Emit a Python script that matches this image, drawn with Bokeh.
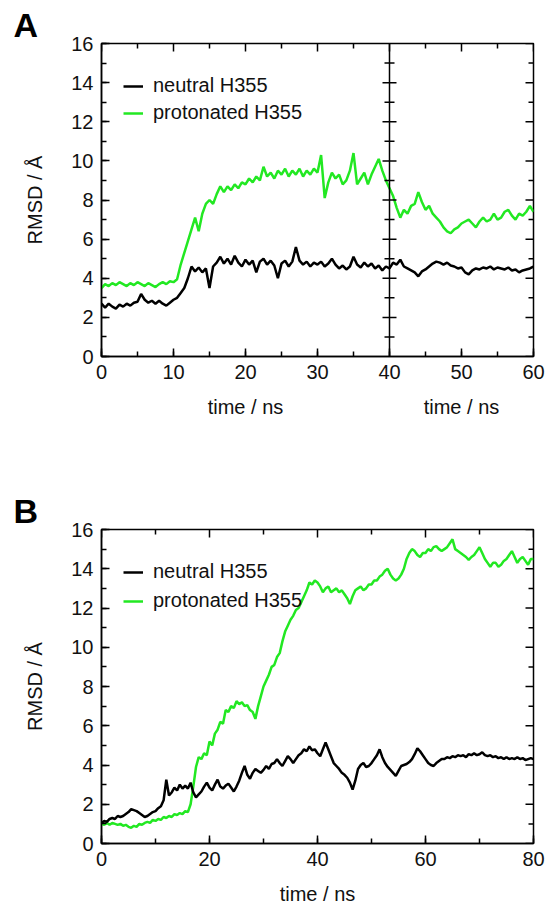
import numpy as np
from bokeh.plotting import figure
from bokeh.models import (Range1d, SingleIntervalTicker, LinearAxis, Span, Title,
                          Legend, LegendItem)
from bokeh.core.properties import value
from bokeh.layouts import column
from bokeh.embed import file_html
from bokeh.resources import INLINE

FONT = "Liberation Sans"
GREEN = "#22e822"
BLACK = "#000000"
TEXT_COLOR = "#111111"

# ---------------- data (RMSD in Angstrom, sampled every 0.5 ns) ----------------
SAMPLE_STEP = 0.5
A_SPLIT = 40  # ns, restart boundary in panel A

A_NEUTRAL = [
    2.7, 2.5, 2.7, 2.55, 2.45, 2.65, 2.55, 2.7, 2.6, 2.75,
    2.8, 3.2, 2.9, 2.75, 2.85, 2.7, 2.85, 2.7, 2.6, 2.75,
    2.9, 3.0, 3.25, 3.5, 4.0, 4.6, 4.35, 4.55, 4.3, 4.5,
    3.5, 4.6, 4.8, 5.1, 4.75, 5.0, 4.7, 5.15, 4.8, 4.6,
    4.95, 4.7, 4.9, 4.3, 4.85, 5.0, 4.7, 4.9, 4.65, 4.0,
    4.75, 4.9, 4.6, 4.85, 5.6, 4.9, 4.7, 4.85, 4.6, 4.8,
    4.7, 4.85, 4.6, 4.75, 5.0, 4.7, 4.5, 4.65, 4.45, 4.6,
    5.1, 4.7, 4.55, 4.8, 4.6, 4.75, 4.5, 4.65, 4.4, 4.6,
    4.5, 4.8, 4.7, 4.95, 4.6, 4.5, 4.4, 4.3, 4.1, 4.35,
    4.45, 4.6, 4.75, 4.85, 4.8, 4.7, 4.8, 4.65, 4.6, 4.5,
    4.55, 4.3, 4.2, 4.4, 4.5, 4.45, 4.55, 4.5, 4.6, 4.45,
    4.55, 4.5, 4.45, 4.55, 4.4, 4.45, 4.3, 4.4, 4.45, 4.5,
    4.6,
]
A_PROTON = [
    3.5, 3.7, 3.6, 3.75, 3.65, 3.8, 3.7, 3.6, 3.75, 3.65,
    3.8, 3.7, 3.6, 3.75, 3.65, 3.55, 3.7, 3.8, 3.7, 3.85,
    3.8, 3.95, 4.7, 5.3, 5.9, 6.5, 7.1, 6.4, 7.3, 7.8,
    8.0, 7.8, 8.3, 8.7, 8.4, 8.7, 8.5, 8.8, 8.6, 8.9,
    8.8, 9.1, 8.9, 9.2, 9.0, 9.7, 9.2, 9.4, 9.1, 9.5,
    9.3, 9.6, 9.2, 9.5, 9.3, 9.6, 9.2, 9.5, 9.3, 9.6,
    9.4, 10.3, 8.1, 8.9, 9.4, 9.1, 9.3, 8.8, 9.0, 9.5,
    10.4, 8.8, 9.1, 9.4, 8.8, 9.3, 9.7, 10.1, 9.5, 9.0,
    8.6, 8.2, 7.6, 7.1, 7.5, 7.3, 7.7, 7.8, 8.4, 7.9,
    7.5, 7.7, 7.3, 7.1, 6.9, 6.6, 6.4, 6.3, 6.5, 6.6,
    6.8, 6.9, 7.0, 6.8, 6.6, 6.9, 7.1, 6.9, 7.0, 7.3,
    7.0, 7.1, 7.4, 7.5, 7.2, 7.0, 7.3, 7.2, 7.4, 7.7,
    7.4,
]
B_NEUTRAL = [
    1.05, 1.15, 1.1, 1.25, 1.3, 1.25, 1.4, 1.35, 1.4, 1.5,
    1.6, 1.75, 1.7, 1.65, 1.55, 1.45, 1.35, 1.4, 1.5, 1.6,
    1.65, 1.8, 1.9, 2.2, 3.25, 2.45, 2.6, 2.85, 2.7, 3.0,
    2.8, 2.95, 2.8, 3.1, 2.6, 2.35, 2.5, 2.65, 2.9, 3.1,
    2.85, 2.7, 3.0, 3.25, 2.9, 2.8, 2.95, 3.05, 2.85, 2.65,
    2.9, 3.2, 3.6, 3.95, 3.5, 3.3, 3.6, 3.8, 3.7, 3.6,
    3.75, 3.95, 3.8, 4.05, 4.1, 4.3, 4.1, 3.95, 4.2, 4.45,
    4.3, 4.1, 4.3, 4.5, 4.6, 4.8, 4.7, 4.95, 4.75, 4.8,
    4.6, 4.45, 4.8, 5.15, 4.8, 4.45, 4.1, 3.95, 3.8, 3.6,
    3.5, 3.35, 3.1, 2.75, 3.2, 3.8, 4.0, 4.1, 3.9, 3.95,
    4.1, 4.3, 4.5, 4.8, 4.4, 4.1, 3.9, 3.75, 3.6, 3.45,
    3.7, 3.95, 4.0, 4.05, 4.15, 4.3, 4.55, 4.85, 4.7, 4.5,
    4.3, 4.1, 4.0, 3.95, 4.1, 4.2, 4.3, 4.3, 4.4, 4.35,
    4.45, 4.4, 4.5, 4.45, 4.5, 4.4, 4.55, 4.5, 4.6, 4.5,
    4.55, 4.65, 4.5, 4.45, 4.5, 4.4, 4.45, 4.35, 4.4, 4.3,
    4.4, 4.3, 4.35, 4.3, 4.4, 4.3, 4.35, 4.25, 4.3, 4.35,
    4.3,
]
B_PROTON = [
    1.0, 0.95, 1.05, 0.95, 1.05, 1.0, 0.95, 1.0, 0.9, 0.95,
    0.85, 0.8, 0.9, 0.85, 1.0, 0.95, 1.05, 1.1, 1.05, 1.2,
    1.15, 1.25, 1.2, 1.35, 1.3, 1.4, 1.35, 1.5, 1.45, 1.55,
    1.5, 1.65, 1.6, 2.0, 2.9, 3.9, 4.4, 4.3, 4.6, 4.5,
    5.2, 5.0, 5.6, 5.8, 6.2, 6.1, 6.8, 6.7, 7.0, 6.9,
    7.25, 7.1, 7.2, 7.0, 7.05, 6.8, 6.7, 6.35, 7.0, 7.5,
    8.0, 8.3, 8.6, 9.0, 9.1, 9.5, 9.7, 10.3, 10.8, 11.1,
    11.4, 11.6, 11.9, 12.0, 12.3, 12.6, 12.9, 13.3, 13.2, 13.4,
    13.3, 13.1, 12.8, 13.0, 13.1, 12.8, 12.9, 13.0, 12.8, 12.9,
    12.7, 12.5, 12.2, 12.6, 12.9, 13.0, 13.1, 12.9, 13.0, 13.2,
    13.2, 13.4, 13.4, 13.6, 13.7, 13.9, 14.0, 13.7, 13.5, 13.4,
    13.5, 13.7, 14.0, 14.5, 14.8, 15.0, 14.9, 14.7, 14.6, 14.8,
    14.8, 15.0, 14.9, 15.1, 15.15, 15.0, 14.9, 15.0, 15.1, 15.3,
    15.5, 15.0, 14.9, 14.8, 14.7, 14.6, 14.45, 14.6, 14.7, 14.9,
    15.1, 14.8, 14.5, 14.3, 14.1, 14.3, 14.3, 14.1, 14.2, 14.4,
    14.5, 14.7, 14.9, 14.6, 14.3, 14.5, 14.6, 14.4, 14.2, 14.5,
    14.5,
]

LABEL_NEUTRAL = "neutral H355"
LABEL_PROTON = "protonated H355"
X_LABEL = "time / ns"
Y_LABEL = "RMSD / Å"
Y_MAX = 16
Y_INTERVAL = 2
A_X_MAX = 60
A_X_INTERVAL = 10
B_X_MAX = 80
B_X_INTERVAL = 20

# geometry (pixels)
BORDER_L = 101
BORDER_R = 16
FRAME_W = 432
MAJOR_LEN = 8
MINOR_LEN = 5
DIV_MAJOR_HALF = 7
DIV_MINOR_HALF = 5
LINE_W = 1.5


def times(arr):
    return np.arange(len(arr)) * SAMPLE_STEP


def style_axis(ax):
    ax.axis_line_color = "black"
    ax.axis_line_width = LINE_W
    ax.major_tick_in = MAJOR_LEN
    ax.major_tick_out = 0
    ax.minor_tick_in = MINOR_LEN
    ax.minor_tick_out = 0
    ax.major_tick_line_width = LINE_W
    ax.minor_tick_line_width = LINE_W
    ax.major_tick_line_color = "black"
    ax.minor_tick_line_color = "black"
    ax.major_label_text_font = FONT
    ax.major_label_text_color = TEXT_COLOR
    ax.major_label_text_font_size = "20px"
    ax.major_label_standoff = 8
    ax.axis_label_text_font = FONT
    ax.axis_label_text_font_size = "20px"
    ax.axis_label_text_font_style = "normal"
    ax.axis_label_text_color = TEXT_COLOR


def mirror_ticks(p, x_max, x_interval, frame_h):
    # inward ticks on the top and right frame edges
    ux = x_max / FRAME_W      # data units per pixel (x)
    uy = Y_MAX / frame_h      # data units per pixel (y)
    x_major = np.arange(0, x_max + 0.001, x_interval)
    x_minor = x_major[:-1] + x_interval / 2
    y_major = np.arange(0, Y_MAX + 0.001, Y_INTERVAL)
    y_minor = y_major[:-1] + Y_INTERVAL / 2
    for xs, ln in [(x_major, MAJOR_LEN), (x_minor, MINOR_LEN)]:
        p.segment(x0=xs, y0=[Y_MAX] * len(xs), x1=xs, y1=[Y_MAX - ln * uy] * len(xs),
                  line_color="black", line_width=LINE_W)
    for ys, ln in [(y_major, MAJOR_LEN), (y_minor, MINOR_LEN)]:
        p.segment(x0=[x_max] * len(ys), y0=ys, x1=[x_max - ln * ux] * len(ys), y1=ys,
                  line_color="black", line_width=LINE_W)


def make_fig(x_max, x_interval, frame_h, top_border, bottom_border, letter):
    p = figure(frame_width=FRAME_W, frame_height=frame_h,
               x_range=Range1d(0, x_max), y_range=Range1d(0, Y_MAX),
               output_backend="svg", toolbar_location=None,
               min_border_left=BORDER_L, min_border_right=BORDER_R,
               min_border_top=top_border, min_border_bottom=bottom_border,
               x_axis_type=None, y_axis_type=None)
    p.outline_line_color = "black"
    p.outline_line_width = LINE_W
    p.background_fill_color = "white"
    p.border_fill_color = "white"
    xt = SingleIntervalTicker(interval=x_interval, num_minor_ticks=2)
    yt = SingleIntervalTicker(interval=Y_INTERVAL, num_minor_ticks=2)
    bottom = LinearAxis(ticker=xt)
    left = LinearAxis(ticker=yt, axis_label=Y_LABEL)
    style_axis(bottom)
    style_axis(left)
    left.axis_label_standoff = 22
    p.add_layout(bottom, "below")
    p.add_layout(left, "left")
    p.add_layout(Title(text=letter, align="left", offset=-88, standoff=0,
                       text_font=FONT, text_font_style="bold",
                       text_font_size="34px", text_color="black"), "above")
    mirror_ticks(p, x_max, x_interval, frame_h)
    return p, bottom


def add_traces(p, t_n, neutral, t_p, proton, frame_h, row_gap):
    rp = p.line(t_p, proton, line_color=GREEN, line_width=2.5)
    rn = p.line(t_n, neutral, line_color=BLACK, line_width=2.5)
    leg = Legend(items=[LegendItem(label=LABEL_NEUTRAL, renderers=[rn]),
                        LegendItem(label=LABEL_PROTON, renderers=[rp])],
                 location=(22, frame_h - 77 - row_gap), orientation="vertical",
                 label_text_font=FONT, label_text_font_size="20px",
                 label_text_color=TEXT_COLOR,
                 glyph_width=20, glyph_height=20, label_height=20,
                 label_standoff=10, spacing=row_gap, padding=0, margin=0,
                 border_line_color=None, background_fill_alpha=0,
                 level="underlay")
    p.add_layout(leg)


# ---------------- panel A ----------------
FH_A = 313
pA, axA = make_fig(A_X_MAX, A_X_INTERVAL, FH_A, 43, 36, "A")
add_traces(pA, times(A_NEUTRAL), A_NEUTRAL, times(A_PROTON), A_PROTON, FH_A, 4)
pA.add_layout(Span(location=A_SPLIT, dimension="height", line_color="black", line_width=LINE_W))
uxA = A_X_MAX / FRAME_W
div_major = np.arange(Y_INTERVAL, Y_MAX, Y_INTERVAL)
div_minor = np.arange(Y_INTERVAL / 2, Y_MAX, Y_INTERVAL)
for ys, half in [(div_major, DIV_MAJOR_HALF), (div_minor, DIV_MINOR_HALF)]:
    pA.segment(x0=[A_SPLIT - half * uxA] * len(ys), y0=ys,
               x1=[A_SPLIT + half * uxA] * len(ys), y1=ys,
               line_color="black", line_width=LINE_W)

# strip carrying the two x-axis titles of panel A (one per segment)
strip = figure(frame_width=FRAME_W, frame_height=28, x_range=pA.x_range,
               y_range=Range1d(0, 1), output_backend="svg", toolbar_location=None,
               min_border_left=BORDER_L, min_border_right=BORDER_R,
               min_border_top=0, min_border_bottom=0,
               x_axis_type=None, y_axis_type=None)
strip.outline_line_color = None
strip.text(x=[A_SPLIT / 2, (A_SPLIT + A_X_MAX) / 2], y=[0.5, 0.5], text=[X_LABEL, X_LABEL],
           text_font=value(FONT), text_font_size="20px", text_color=TEXT_COLOR,
           text_align="center", text_baseline="middle")

# ---------------- panel B ----------------
FH_B = 314
pB, axB = make_fig(B_X_MAX, B_X_INTERVAL, FH_B, 109, 50, "B")
axB.axis_label = X_LABEL
axB.axis_label_standoff = 14
add_traces(pB, times(B_NEUTRAL), B_NEUTRAL, times(B_PROTON), B_PROTON, FH_B, 6)

layout = column(pA, strip, pB, spacing=0)
open("out.html", "w").write(file_html(layout, INLINE))
